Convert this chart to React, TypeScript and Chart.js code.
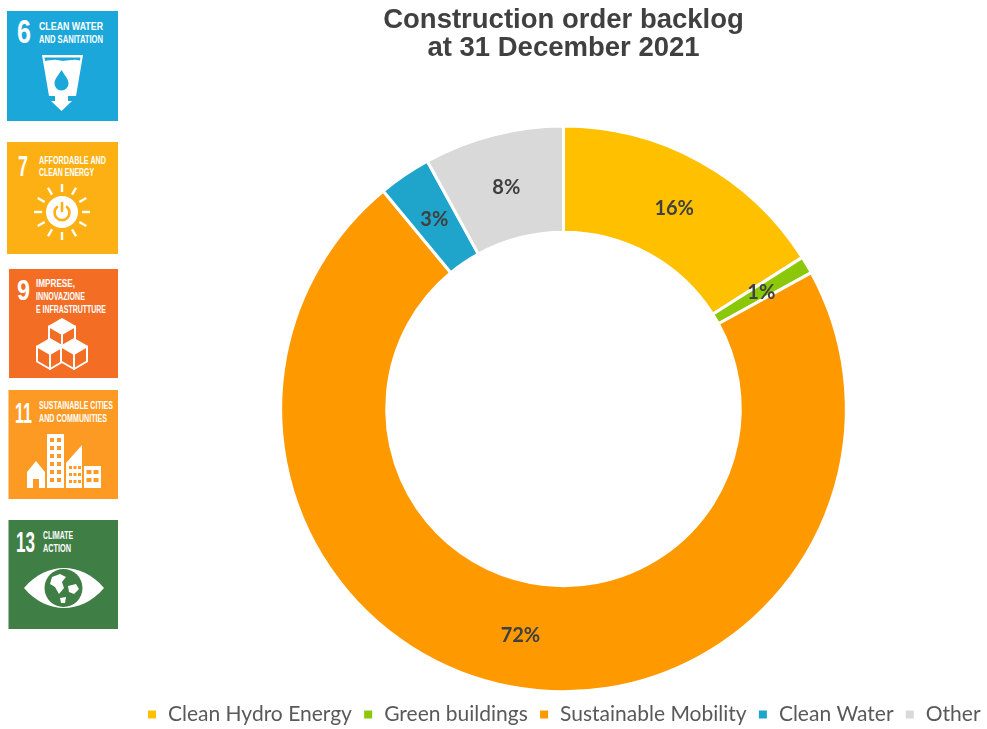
import React, { useEffect, useRef } from "react";
import { Chart, registerables } from "chart.js";
import type { Plugin } from "chart.js";

Chart.register(...registerables);

const titleLines = ["Construction order backlog", "at 31 December 2021"];
const categories = ["Clean Hydro Energy", "Green buildings", "Sustainable Mobility", "Clean Water", "Other"];
const backlogShare = [16, 1, 72, 3, 8];
const sliceColors = ["#FFC000", "#8CC80A", "#FF9900", "#1FA5CB", "#D9D9D9"];

const NARROW = "'Liberation Sans Narrow', 'Liberation Sans', sans-serif";

// Prints each slice's share at the middle of its ring segment.
const sliceLabels: Plugin<"doughnut"> = {
  id: "sliceLabels",
  afterDatasetsDraw(chart) {
    const { ctx } = chart;
    const meta = chart.getDatasetMeta(0);
    ctx.save();
    ctx.font = "bold 20px Lato, sans-serif";
    ctx.fillStyle = "#404040";
    ctx.textAlign = "center";
    ctx.textBaseline = "middle";
    meta.data.forEach((arc, i) => {
      const c = arc.getCenterPoint();
      ctx.fillText(`${backlogShare[i]}%`, c.x, c.y + 1);
    });
    ctx.restore();
  },
};

type Caption = { x: number; y: number; w: number; text: string };

function Number_({ x, y, w, text, size }: { x: number; y: number; w: number; text: string; size: number }) {
  return (
    <text x={x} y={y} fontFamily={NARROW} fontWeight="bold" fontSize={size} fill="#fff" textLength={w} lengthAdjust="spacingAndGlyphs">
      {text}
    </text>
  );
}

function Captions({ lines, size = 10.5 }: { lines: Caption[]; size?: number }) {
  return (
    <>
      {lines.map((l) => (
        <text key={l.text} x={l.x} y={l.y} fontFamily={NARROW} fontWeight="bold" fontSize={size} fill="#fff" textLength={l.w} lengthAdjust="spacingAndGlyphs">
          {l.text}
        </text>
      ))}
    </>
  );
}

const sunRays = [0, 30, 60, 90, 120, 150, 180, 210, 240, 270, 300, 330];

function Cube({ cx, cy }: { cx: number; cy: number }) {
  const a = 13;
  const b = 7.5;
  return (
    <g stroke="#fff" strokeWidth={2} strokeLinejoin="round" fill="none">
      <polygon points={`${cx},${cy - b * 2} ${cx + a},${cy - b} ${cx},${cy} ${cx - a},${cy - b}`} fill="#fff" />
      <polygon points={`${cx - a},${cy - b} ${cx},${cy} ${cx},${cy + b * 2} ${cx - a},${cy + b}`} fill="#F36D25" />
      <polygon points={`${cx + a},${cy - b} ${cx},${cy} ${cx},${cy + b * 2} ${cx + a},${cy + b}`} fill="#F36D25" />
    </g>
  );
}

function Windows({ x, y, cols, rows, w, h, dx, dy, color }: { x: number; y: number; cols: number; rows: number; w: number; h: number; dx: number; dy: number; color: string }) {
  const cells: React.ReactElement[] = [];
  for (let r = 0; r < rows; r++) {
    for (let c = 0; c < cols; c++) {
      cells.push(<rect key={`${r}-${c}`} x={x + c * dx} y={y + r * dy} width={w} height={h} fill={color} />);
    }
  }
  return <>{cells}</>;
}

// The column of goal tiles beside the chart.
function GoalTiles() {
  return (
    <svg width={130} height={729} style={{ position: "absolute", left: 0, top: 0 }}>
      {/* Goal 6 */}
      <rect x={7} y={11} width={111} height={110} fill="#1CA7DB" />
      <Number_ x={17} y={43} w={14} text="6" size={33} />
      <Captions lines={[{ x: 39, y: 30, w: 64, text: "CLEAN WATER" }, { x: 39, y: 43, w: 64, text: "AND SANITATION" }]} />
      <path d="M42 55H83L76 96H68V101H72L61.500 111L51 101H55V96H49Z" fill="#fff" />
      <path d="M44.500 57.500H80.500L80 60.500C72 58.500 66 62 60 60.500C54 59 49 60.500 45 61Z" fill="#1CA7DB" />
      <path d="M61.500 70C65 76 68.500 79 68.500 83.500A7 7 0 0 1 54.500 83.500C54.500 79 58 76 61.500 70Z" fill="#1CA7DB" />

      {/* Goal 7 */}
      <rect x={7} y={142} width={111} height={112} fill="#FDB014" />
      <Number_ x={18} y={176} w={10} text="7" size={30} />
      <Captions lines={[{ x: 39, y: 164, w: 67, text: "AFFORDABLE AND" }, { x: 39, y: 176, w: 55, text: "CLEAN ENERGY" }]} />
      <g transform="translate(62 212)">
        {sunRays.map((deg) => (
          <line key={deg} x1={0} y1={-20} x2={0} y2={-28} stroke="#fff" strokeWidth={2.400} transform={`rotate(${deg})`} />
        ))}
        <circle r={16} fill="#fff" />
        <path d="M-5 -5A7.500 7.500 0 1 0 5 -5" fill="none" stroke="#FDB014" strokeWidth={2.600} strokeLinecap="round" />
        <line x1={0} y1={-9} x2={0} y2={-1} stroke="#FDB014" strokeWidth={2.600} strokeLinecap="round" />
      </g>

      {/* Goal 9 */}
      <rect x={9} y={269} width={109} height={109} fill="#F36D25" />
      <Number_ x={17} y={300} w={13} text="9" size={29} />
      <Captions
        size={10}
        lines={[
          { x: 36, y: 287, w: 39, text: "IMPRESE," },
          { x: 36, y: 300, w: 49, text: "INNOVAZIONE" },
          { x: 36, y: 313, w: 70, text: "E INFRASTRUTTURE" },
        ]}
      />
      <Cube cx={62} cy={334} />
      <Cube cx={50} cy={354} />
      <Cube cx={74} cy={354} />

      {/* Goal 11 */}
      <rect x={8.500} y={390} width={109.500} height={109} fill="#FD9A24" />
      <Number_ x={15} y={423} w={17} text="11" size={29} />
      <Captions
        size={10}
        lines={[
          { x: 39, y: 409, w: 74, text: "SUSTAINABLE CITIES" },
          { x: 39, y: 422, w: 68, text: "AND COMMUNITIES" },
        ]}
      />
      <path d="M27 488V472L36 461L45 472V488H39V479H33V488Z" fill="#fff" />
      <rect x={47} y={434} width={17} height={54} fill="#fff" />
      <Windows x={50} y={438} cols={2} rows={6} w={4} h={4} dx={7} dy={8} color="#FD9A24" />
      <path d="M66 488V463L82 445V488Z" fill="#fff" />
      <Windows x={69} y={466} cols={3} rows={3} w={3} h={3} dx={4.500} dy={7} color="#FD9A24" />
      <rect x={84} y={466} width={17} height={22} fill="#fff" />
      <Windows x={86.500} y={470} cols={2} rows={2} w={5} h={4} dx={7} dy={8} color="#FD9A24" />

      {/* Goal 13 */}
      <rect x={8.500} y={520} width={109.500} height={109} fill="#3F7E44" />
      <Number_ x={16} y={552} w={19} text="13" size={29} />
      <Captions
        size={10}
        lines={[
          { x: 43, y: 539, w: 30, text: "CLIMATE" },
          { x: 43, y: 552, w: 28, text: "ACTION" },
        ]}
      />
      <path d="M24 588C36 574 50 568 64 568C78 568 92 574 104 588C92 602 78 608 64 608C50 608 36 602 24 588Z" fill="#fff" />
      <circle cx={63.500} cy={588} r={19} fill="#3F7E44" />
      <path d="M52 577L60 574L66 577L62 582L64 588L59 594L55 587L50 584ZM68 586L76 584L79 589L74 594L69 592ZM60 598L66 597L65 603L61 603Z" fill="#fff" />
    </svg>
  );
}

export default function App() {
  const canvasRef = useRef<HTMLCanvasElement>(null);

  useEffect(() => {
    document.body.style.margin = "0";
    const chart = new Chart(canvasRef.current!, {
      type: "doughnut",
      data: {
        labels: categories,
        datasets: [
          {
            data: backlogShare,
            backgroundColor: sliceColors,
            borderColor: "#ffffff",
            borderWidth: 3,
          },
        ],
      },
      options: {
        animation: false,
        responsive: false,
        cutout: "62.5%",
        plugins: {
          title: {
            display: true,
            text: titleLines,
            color: "#404040",
            font: { family: "'Liberation Sans', sans-serif", size: 27.5, weight: "bold", lineHeight: 1.02 },
            padding: { top: 6, bottom: 62.5 },
          },
          legend: {
            position: "bottom",
            labels: {
              boxWidth: 11,
              boxHeight: 11,
              padding: 10.75,
              color: "#595959",
              font: { family: "Lato, sans-serif", size: 21 },
            },
          },
          tooltip: { enabled: false },
        },
      },
      plugins: [sliceLabels],
    });
    return () => chart.destroy();
  }, []);

  return (
    <div style={{ position: "relative", width: 987, height: 729, background: "#fff", overflow: "hidden" }}>
      <GoalTiles />
      <canvas ref={canvasRef} width={907} height={735} style={{ position: "absolute", left: 110, top: 0 }} />
    </div>
  );
}
